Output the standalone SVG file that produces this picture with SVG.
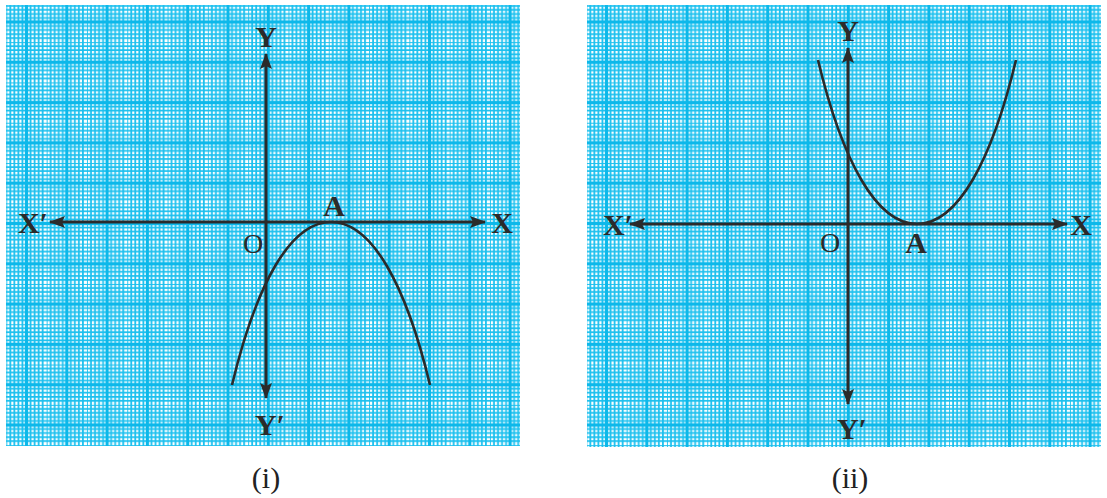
<svg xmlns="http://www.w3.org/2000/svg" width="1107" height="498" viewBox="0 0 1107 498">
<defs>
<pattern id="gridL" patternUnits="userSpaceOnUse" x="6.35" y="1.85" width="40.3" height="40.3">
<path d="M0.0 0V40.3M4.03 0V40.3M8.06 0V40.3M12.09 0V40.3M16.12 0V40.3M24.18 0V40.3M28.21 0V40.3M32.24 0V40.3M36.27 0V40.3M0 0.0H40.3M0 4.03H40.3M0 8.06H40.3M0 12.09H40.3M0 16.12H40.3M0 24.18H40.3M0 28.21H40.3M0 32.24H40.3M0 36.27H40.3" stroke="#1cc0ee" stroke-width="1.8" fill="none"/>
<path d="M20.15 0V40.3M0 20.15H40.3" stroke="#0cb8ea" stroke-width="3.2" fill="none"/>
</pattern>
<pattern id="gridR" patternUnits="userSpaceOnUse" x="586.35" y="1.85" width="40.3" height="40.3">
<path d="M0.0 0V40.3M4.03 0V40.3M8.06 0V40.3M12.09 0V40.3M16.12 0V40.3M24.18 0V40.3M28.21 0V40.3M32.24 0V40.3M36.27 0V40.3M0 0.0H40.3M0 4.03H40.3M0 8.06H40.3M0 12.09H40.3M0 16.12H40.3M0 24.18H40.3M0 28.21H40.3M0 32.24H40.3M0 36.27H40.3" stroke="#1cc0ee" stroke-width="1.8" fill="none"/>
<path d="M20.15 0V40.3M0 20.15H40.3" stroke="#0cb8ea" stroke-width="3.2" fill="none"/>
</pattern>
<marker id="ah" viewBox="0 0 16 12" refX="15" refY="6" markerWidth="16" markerHeight="12" markerUnits="userSpaceOnUse" orient="auto-start-reverse">
<path d="M0 0L16 6L0 12L3 6Z" fill="#2b2b2b"/>
</marker>
<style>
.axis{stroke:#2b2b2b;stroke-width:3;fill:none}
.curve{stroke:#2b2b2b;stroke-width:2.6;fill:none}
.lbl{font-family:"Liberation Serif",serif;font-weight:bold;font-size:30px;fill:#2b2b2b;text-anchor:middle}
.o{font-family:"Liberation Serif",serif;font-size:28px;fill:#2b2b2b;text-anchor:middle}
.cap{font-family:"Liberation Serif",serif;font-size:30px;fill:#222;text-anchor:middle}
</style>
</defs>
<rect width="1107" height="498" fill="#ffffff"/>
<g id="panel-i">
<rect x="6" y="5" width="514" height="441" fill="url(#gridL)"/>
</g>
<g id="panel-ii">
<rect x="587" y="5" width="514" height="442" fill="url(#gridR)"/>
</g>
<g id="connectors">
<line class="axis" x1="50" y1="222" x2="485" y2="222" marker-start="url(#ah)" marker-end="url(#ah)"/>
<line class="axis" x1="266" y1="54" x2="266" y2="398" marker-start="url(#ah)" marker-end="url(#ah)"/>
<path class="curve" d="M232 385C256 285 290 222 331 222C372 222 406 285 430 385"/>
<line class="axis" x1="630" y1="224" x2="1067" y2="224" marker-start="url(#ah)" marker-end="url(#ah)"/>
<line class="axis" x1="848" y1="48" x2="848" y2="404" marker-start="url(#ah)" marker-end="url(#ah)"/>
<path class="curve" d="M818 60C842 160 876 224 917 224C958 224 992 160 1016 60"/>
</g>
<g id="labels-i">
<text class="lbl" x="266" y="47">Y</text>
<text class="lbl" x="33" y="233">X′</text>
<text class="lbl" x="502" y="233">X</text>
<text class="lbl" x="334" y="216">A</text>
<text class="o" x="253" y="253">O</text>
<text class="lbl" x="270" y="435">Y′</text>
<text class="cap" x="266" y="488">(i)</text>
</g>
<g id="labels-ii">
<text class="lbl" x="848" y="41">Y</text>
<text class="lbl" x="618" y="235">X′</text>
<text class="lbl" x="1081" y="235">X</text>
<text class="lbl" x="916" y="253">A</text>
<text class="o" x="830" y="252">O</text>
<text class="lbl" x="852" y="439">Y′</text>
<text class="cap" x="850" y="488">(ii)</text>
</g>
</svg>
